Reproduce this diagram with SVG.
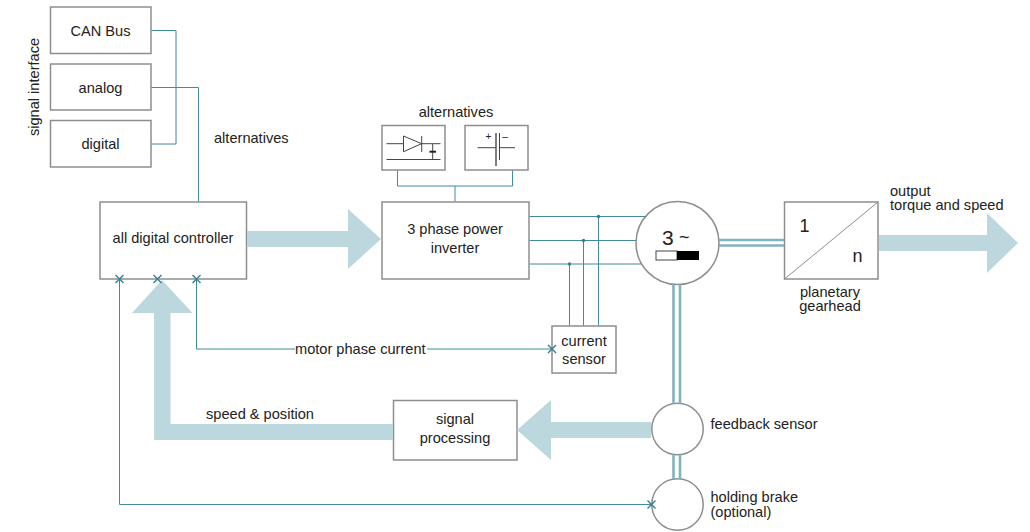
<svg xmlns="http://www.w3.org/2000/svg" width="1030" height="532" viewBox="0 0 1030 532">
<style>
text{font-family:"Liberation Sans",Arial,sans-serif;font-size:14.6px;fill:#222}
.m{text-anchor:middle}
.box{fill:#fff;stroke:#8e8e8e;stroke-width:1.5}
.c{fill:none;stroke:#3f8c9b;stroke-width:1}
.d{fill:none;stroke:#80b3c0;stroke-width:2.6}
.big{fill:#bdd7de}
.x{fill:none;stroke:#33808f;stroke-width:1.4}
.sym{fill:none;stroke:#444;stroke-width:1}
.dot{fill:#2f7f8f}
</style>
<g id="can"><rect class="box" x="50.500" y="7" width="100.500" height="46.500"/><text class="m" x="100.500" y="36">CAN Bus</text></g>
<g id="analog"><rect class="box" x="50.500" y="64" width="100.500" height="46"/><text class="m" x="100.500" y="93">analog</text></g>
<g id="digital"><rect class="box" x="50.500" y="120.500" width="100.500" height="46.500"/><text class="m" x="100.500" y="149">digital</text></g>
<g id="signal-interface"><text class="m" transform="translate(38.500 87) rotate(-90)">signal interface</text></g>
<g id="alt-label-1"><text x="214" y="143">alternatives</text></g>
<g id="controller"><rect class="box" x="100" y="202" width="146.500" height="77"/><text class="m" x="173" y="243">all digital controller</text></g>
<g id="inverter"><rect class="box" x="382" y="202" width="147" height="77"/><text class="m" x="455" y="234">3 phase power</text><text class="m" x="455" y="253">inverter</text></g>
<g id="alt-label-2"><text class="m" x="456" y="117">alternatives</text></g>
<g id="diode"><rect class="box" x="382" y="125.500" width="63" height="44.500"/>
<path class="sym" d="M386.500 143.700H403M421.700 143.700H440.500M386.500 159.500H440.500M432.700 143.700V159.500M403.500 136L421.500 143.700L403.500 151.700ZM421.700 136V152"/><path d="M429.500 151.700H436" stroke="#222" stroke-width="2" fill="none"/></g>
<g id="battery"><rect class="box" x="465" y="125.500" width="63" height="44.500"/>
<path class="sym" d="M477.500 147.700H496M499.500 147.700H515M499.500 133V160"/><path d="M496 133V166" stroke="#555" stroke-width="1.500" fill="none"/>
<text class="m" x="488.500" y="140" style="font-size:10px">+</text><text class="m" x="505" y="140" style="font-size:10px">–</text></g>
<g id="motor"><circle cx="677.500" cy="243" r="41.500" fill="#fff" stroke="#8e8e8e" stroke-width="1.500"/>
<text x="662" y="245" style="font-size:21px">3</text><text x="679" y="243" style="font-size:18px">~</text>
<rect x="656" y="251" width="21" height="9" fill="#fff" stroke="#444" stroke-width="1"/><rect x="677" y="251" width="22" height="9" fill="#000"/></g>
<g id="gearhead"><rect class="box" x="784.500" y="202" width="93.500" height="77"/><path d="M784.500 279L878 202" stroke="#8e8e8e" fill="none"/>
<text x="799.500" y="232" style="font-size:18px">1</text><text x="852.500" y="262" style="font-size:18px">n</text>
<text class="m" x="830" y="297">planetary</text><text class="m" x="830" y="311">gearhead</text></g>
<g id="output-label"><text x="890" y="196">output</text><text x="890" y="210">torque and speed</text></g>
<g id="sensor"><rect class="box" x="552" y="326" width="64" height="47"/><text class="m" x="584" y="346">current</text><text class="m" x="584" y="364">sensor</text></g>
<g id="phase-label"><text x="295" y="354">motor phase current</text></g>
<g id="signal"><rect class="box" x="393.500" y="400.500" width="123.500" height="59.500"/><text class="m" x="455" y="424">signal</text><text class="m" x="455" y="443">processing</text></g>
<g id="speed-label"><text x="206" y="419">speed &amp; position</text></g>
<g id="feedback"><circle cx="677.500" cy="429" r="25.700" fill="#fff" stroke="#8e8e8e" stroke-width="1.500"/><text x="710.500" y="429">feedback sensor</text></g>
<g id="brake"><circle cx="677.500" cy="504.500" r="25.700" fill="#fff" stroke="#8e8e8e" stroke-width="1.500"/><text x="710.500" y="502">holding brake</text><text x="710.500" y="517">(optional)</text></g>
<g id="connectors">
<path class="c" d="M151.500 30.500H176V144H151.500M151.500 87.500H198.500V201.500"/>
<path class="c" d="M397.500 170.500V186H512.500V170.500M455 186V201.500"/>
<path class="c" d="M529.500 216.500H645.500M529.500 240.500H636M529.500 264H641.500"/>
<path class="c" d="M598.500 216.500V325.500M583.500 240.500V325.500M569.500 264V325.500"/>
<circle class="dot" cx="598.500" cy="216.500" r="1.700"/><circle class="dot" cx="583.500" cy="240.500" r="1.700"/><circle class="dot" cx="569.500" cy="264" r="1.700"/>
<path class="c" d="M196.500 279V349H295M427 349H552"/>
<path class="c" d="M119.500 279V504.500H652"/>
<path class="d" d="M719 240H784M719 245.500H784"/>
<path class="d" d="M673.500 284.500V403.500M680 284.500V403.500M673.500 454.500V479M680 454.500V479"/>
<path class="big" d="M247 231H348V209L381 239L348 269V247H247Z"/>
<path class="big" d="M879 235H987V213L1018 243L987 273V251H879Z"/>
<path class="big" d="M393 424H170.500V313H192.500L162 280L132 313H154V440H393Z"/>
<path class="big" d="M651 422H551V400L517 430L551 460V438H651Z"/>
<path class="x" d="M115.500 275L123.500 283M123.500 275L115.500 283M153.500 275L161.500 283M161.500 275L153.500 283M192.500 275L200.500 283M200.500 275L192.500 283M548 345L556 353M556 345L548 353M647.500 500.500L655.500 508.500M655.500 500.500L647.500 508.500"/>
</g>
</svg>
